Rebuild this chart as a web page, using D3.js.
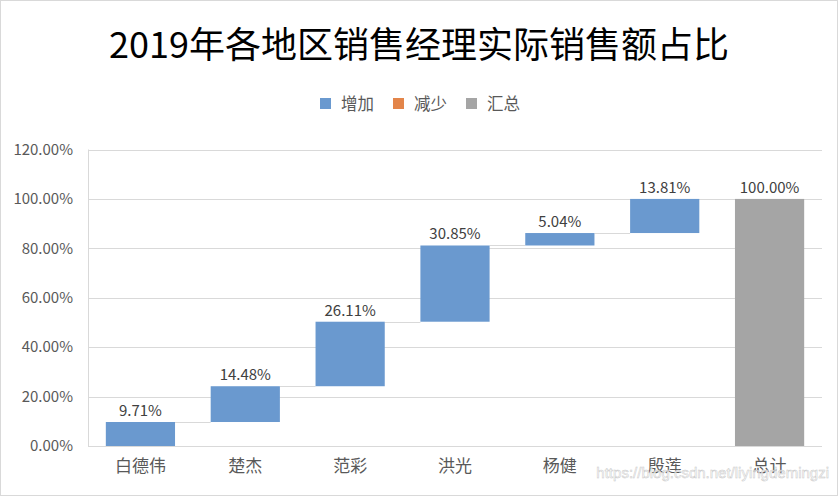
<!DOCTYPE html>
<html><head><meta charset="utf-8">
<script src="https://cdn.jsdelivr.net/npm/d3@7"></script>
<style>html,body{margin:0;padding:0;background:#fff;}svg{display:block;}</style>
</head><body>
<svg id="chart" width="838" height="498"></svg>
<script>
const title = "2019年各地区销售经理实际销售额占比";
const categories = ["白德伟", "楚杰", "范彩", "洪光", "杨健", "殷莲", "总计"];
const values = [9.71, 14.48, 26.11, 30.85, 5.04, 13.81, 100.00];
const isTotal = [false, false, false, false, false, false, true];
const yTicks = [0, 20, 40, 60, 80, 100, 120];
const legendLabels = ["增加", "减少", "汇总"];
const legendColors = ["#6A99CF", "#E3854A", "#A5A5A5"];

const W = 838, H = 498;
const font = "'Noto Sans CJK SC', 'Noto Sans', sans-serif";
const svg = d3.select("#chart");
svg.append("rect").attr("x", 0.5).attr("y", 0.5).attr("width", W - 1).attr("height", H - 3)
  .attr("fill", "#fff").attr("stroke", "#d9d9d9");

const m = {left: 88, right: 16};
const x = d3.scaleBand().domain(categories).range([m.left, W - m.right]).paddingInner(0.34).paddingOuter(0.17);
const y = d3.scaleLinear().domain([0, 120]).range([446, 149.5]);

// gridlines
svg.append("g").selectAll("line").data(yTicks).join("line")
  .attr("x1", m.left).attr("x2", W - m.right)
  .attr("y1", d => Math.round(y(d)) + 0.5).attr("y2", d => Math.round(y(d)) + 0.5)
  .attr("stroke", "#d9d9d9").attr("stroke-width", 1);
svg.append("line").attr("x1", m.left + 0.5).attr("x2", m.left + 0.5)
  .attr("y1", y(120)).attr("y2", y(0)).attr("stroke", "#d9d9d9");

// y axis labels
const yAxis = d3.axisLeft(y).tickValues(yTicks).tickFormat(d => d.toFixed(2) + "%").tickSize(0).tickPadding(15);
const gy = svg.append("g").attr("transform", `translate(${m.left},0)`).call(yAxis);
gy.select(".domain").remove();
gy.selectAll("text").attr("font-family", font).attr("font-size", 15).attr("fill", "#595959");

// x axis labels
const xAxis = d3.axisBottom(x).tickSize(0).tickPadding(14);
const gx = svg.append("g").attr("transform", `translate(0,${y(0)})`).call(xAxis);
gx.select(".domain").remove();
gx.selectAll("text").attr("font-family", font).attr("font-size", 17).attr("fill", "#595959");

// waterfall computation
let cum = 0;
const bars = categories.map((c, i) => {
  let base, top;
  if (isTotal[i]) { base = 0; top = values[i]; }
  else { base = cum; top = cum + values[i]; cum = top; }
  return {c, v: values[i], base, top, total: isTotal[i]};
});

// connectors
svg.append("g").selectAll("line").data(bars.slice(0, -1)).join("line")
  .attr("x1", d => x(d.c) + x.bandwidth())
  .attr("x2", (d, i) => x(bars[i + 1].c))
  .attr("y1", d => Math.round(y(d.top)) + 0.5).attr("y2", d => Math.round(y(d.top)) + 0.5)
  .attr("stroke", "#d9d9d9").attr("stroke-width", 1);

svg.append("g").selectAll("rect").data(bars).join("rect")
  .attr("x", d => x(d.c)).attr("width", x.bandwidth())
  .attr("y", d => y(d.top)).attr("height", d => y(d.base) - y(d.top))
  .attr("fill", d => d.total ? legendColors[2] : legendColors[0]);

svg.append("g").selectAll("text").data(bars).join("text")
  .attr("x", d => x(d.c) + x.bandwidth() / 2).attr("y", d => y(d.top) - 6)
  .attr("text-anchor", "middle").attr("font-family", font).attr("font-size", 15)
  .attr("fill", "#404040").text(d => d.v.toFixed(2) + "%");

// title
svg.append("text").attr("x", W / 2).attr("y", 58).attr("text-anchor", "middle")
  .attr("font-family", font).attr("font-size", 36).attr("fill", "#000").text(title);

// legend
const lg = svg.append("g");
const lx = [320, 393, 466];
legendLabels.forEach((l, i) => {
  lg.append("rect").attr("x", lx[i]).attr("y", 98).attr("width", 11).attr("height", 11).attr("fill", legendColors[i]);
  lg.append("text").attr("x", lx[i] + 21).attr("y", 110).attr("font-family", font).attr("font-size", 16.5)
    .attr("fill", "#595959").text(l);
});

// watermark
svg.append("text").attr("x", 829).attr("y", 478).attr("text-anchor", "end")
  .attr("font-family", "'Liberation Sans', Arial, sans-serif").attr("font-size", 15)
  .attr("fill", "#ffffff").attr("fill-opacity", 0.7).attr("stroke", "#c8c8c8").attr("stroke-width", 0.5)
  .text("https://blog.csdn.net/liyingdemingzi");
</script>
</body></html>
